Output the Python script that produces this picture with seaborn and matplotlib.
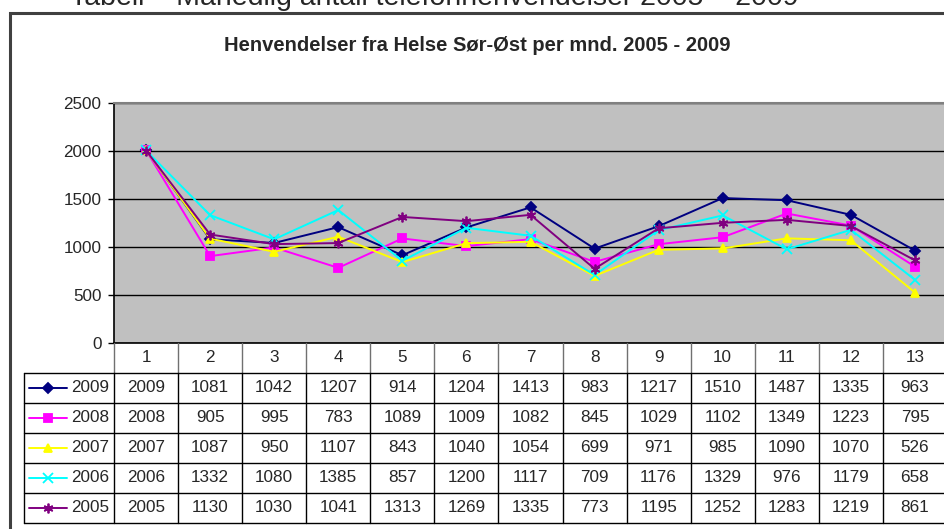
import matplotlib
matplotlib.use("Agg")
import matplotlib.pyplot as plt
from matplotlib.patches import Rectangle
import pandas as pd
import seaborn as sns

# monthly values per year
months = list(range(1, 14))
v2009 = [2009, 1081, 1042, 1207, 914, 1204, 1413, 983, 1217, 1510, 1487, 1335, 963]
v2008 = [2008, 905, 995, 783, 1089, 1009, 1082, 845, 1029, 1102, 1349, 1223, 795]
v2007 = [2007, 1087, 950, 1107, 843, 1040, 1054, 699, 971, 985, 1090, 1070, 526]
v2006 = [2006, 1332, 1080, 1385, 857, 1200, 1117, 709, 1176, 1329, 976, 1179, 658]
v2005 = [2005, 1130, 1030, 1041, 1313, 1269, 1335, 773, 1195, 1252, 1283, 1219, 861]
years = ["2009", "2008", "2007", "2006", "2005"]
series = [v2009, v2008, v2007, v2006, v2005]
colors = ["#000080", "#FF00FF", "#FFFF00", "#00FFFF", "#800080"]
markers = ["D", "s", "^", "x", (6, 2, 0)]
msizes = [5.5, 5.5, 6, 7, 7]

sns.set_style("white")
plt.rcParams["font.family"] = ["Liberation Sans", "DejaVu Sans"]

W, H = 945, 529
fig = plt.figure(figsize=(W / 100, H / 100), dpi=100)

def fx(px):
    return px / W

def fy(py):
    return 1 - py / H

# chart frame
fig.patches.append(Rectangle((fx(10), -0.2), 1.5, fy(13) + 0.2, transform=fig.transFigure,
                             fill=False, edgecolor="#404040", linewidth=2.2))
# caption above the chart, cut off by the top edge as in the source
fig.text(fx(70), fy(5), "Tabell – Månedlig antall telefonhenvendelser 2005 – 2009",
         ha="left", va="baseline", fontsize=20.5)
fig.text(fx(477), fy(46), "Henvendelser fra Helse Sør-Øst per mnd. 2005 - 2009",
         ha="center", va="center", fontsize=14.5, weight="bold")

left, right, top, bottom = 114, 947, 103, 343
ax = fig.add_axes([fx(left), fy(bottom), fx(right - left), (bottom - top) / H])
ax.set_facecolor("#C0C0C0")

df = pd.DataFrame({"month": months * len(years),
                   "value": sum(series, []),
                   "year": [y for y in years for _ in months]})
for yr, c, m, ms in zip(years, colors, markers, msizes):
    sub = df[df["year"] == yr]
    sns.lineplot(data=sub, x="month", y="value", color=c, marker=m, markersize=ms,
                 mec=c, mfc=c, mew=1.3, linewidth=1.4, ax=ax, legend=False, zorder=3)

ax.set_xlim(0.5, 13.5)
ax.set_ylim(0, 2500)
ax.set_yticks(range(0, 2501, 500))
ax.set_xticks([])
ax.set_xlabel("")
ax.set_ylabel("")
ax.set_axisbelow(True)
ax.yaxis.grid(True, color="black", linewidth=1)
ax.tick_params(axis="y", direction="out", length=4, width=1, color="black", pad=5,
               labelsize=12.3, left=True)
for s in ["left", "bottom"]:
    ax.spines[s].set_color("black")
    ax.spines[s].set_linewidth(1.2)
for s in ["top", "right"]:
    ax.spines[s].set_color("#808080")
    ax.spines[s].set_linewidth(1.5)

# data table below the plot
unit = (right - left) / 13
tl = 24
x0 = 0.5 - (left - tl) / unit
ax_t = fig.add_axes([fx(tl), fy(523), fx(right - tl), 180 / H])
ax_t.set_xlim(x0, 13.5)
ax_t.set_ylim(6, 0)
ax_t.axis("off")

for k in range(14):
    ax_t.plot([0.5 + k, 0.5 + k], [0, 1], color="#707070", lw=1, clip_on=False)
    ax_t.plot([0.5 + k, 0.5 + k], [1, 6], color="black", lw=1, clip_on=False)
ax_t.plot([x0, x0], [1, 6], color="black", lw=1, clip_on=False)
for r in range(1, 7):
    ax_t.plot([x0, 13.5], [r, r], color="black", lw=1, clip_on=False)

for m in months:
    ax_t.text(m, 0.5, str(m), ha="center", va="center", fontsize=12.3)

def px2u(px):
    return 0.5 + (px - left) / unit

for i, (yr, vals, c, mk, ms) in enumerate(zip(years, series, colors, markers, msizes)):
    yc = i + 1.5
    ax_t.plot([px2u(29), px2u(67)], [yc, yc], color=c, lw=1.4, clip_on=False)
    ax_t.plot([px2u(48)], [yc], color=c, marker=mk, markersize=ms, mec=c, mew=1.3,
              clip_on=False)
    ax_t.text(px2u(109), yc, yr, ha="right", va="center", fontsize=12.3)
    for m, v in zip(months, vals):
        ax_t.text(m, yc, str(v), ha="center", va="center", fontsize=12.3)

fig.savefig("out.png", dpi=100)
